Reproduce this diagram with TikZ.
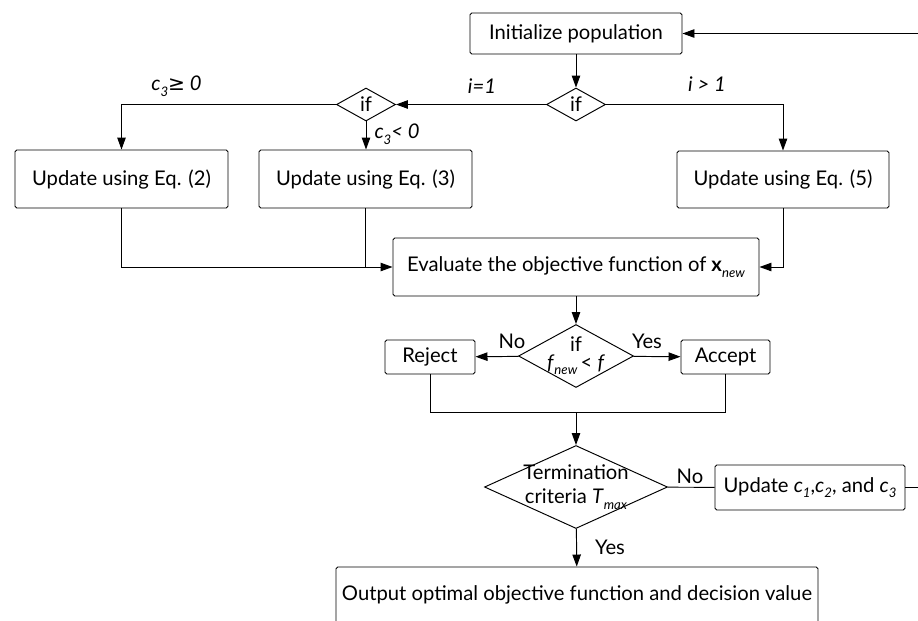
\documentclass[tikz,border=0pt]{standalone}
\usepackage{fontspec}
\setmainfont{Lato}
\newfontfamily\symfont{DejaVu Sans}
\usetikzlibrary{shapes.geometric,arrows.meta}
\newcommand{\sub}[1]{\raisebox{-0.55ex}{\fontsize{7.5}{8}\selectfont\itshape #1}}

\begin{document}
\begin{tikzpicture}[
  every path/.style={line width=0.55pt},
  box/.style={draw, rounded corners=1pt, inner sep=0pt, font=\fontsize{11.5}{13}\selectfont},
  test/.style={draw, diamond, inner sep=0pt},
  arr/.style={-{Triangle[length=0.24cm,width=0.17cm]}},
  lbl/.style={font=\fontsize{11.5}{13}\selectfont\itshape},
  txt/.style={font=\fontsize{11.5}{13}\selectfont}
]
\useasboundingbox (0,0) rectangle (18.36,-12.4);

% top of the flow
\node[box, minimum width=4.24cm, minimum height=0.82cm] (init) at (11.52,-0.67) {Initialize population};
\node[test, minimum width=1.18cm, minimum height=0.66cm, label={[txt]center:if}] (ifi) at (11.52,-2.09) {};
\node[test, minimum width=1.18cm, minimum height=0.66cm, label={[txt]center:if}] (ifc) at (7.32,-2.09) {};

% update boxes
\node[box, minimum width=4.26cm, minimum height=1.16cm] (eqtwo) at (2.43,-3.58) {Update using Eq. (2)};
\node[box, minimum width=4.26cm, minimum height=1.16cm] (eqthree) at (7.31,-3.58) {Update using Eq. (3)};
\node[box, minimum width=4.24cm, minimum height=1.14cm] (eqfive) at (15.66,-3.59) {Update using Eq. (5)};
\node[box, minimum width=7.32cm, minimum height=1.16cm] (eval) at (11.52,-5.34) {Evaluate the objective function of \textbf{x}\sub{new}};

% selection
\node[test, minimum width=2.3cm, minimum height=1.26cm,
  label={[txt, align=center, font=\fontsize{11.5}{10}\selectfont]center:{if\\\textit{f}\sub{new}\,< \textit{f}}}] (better) at (11.52,-7.12) {};
\node[box, minimum width=1.8cm, minimum height=0.68cm] (reject) at (8.6,-7.14) {Reject};
\node[box, minimum width=1.78cm, minimum height=0.68cm] (accept) at (14.51,-7.14) {Accept};
\coordinate (join) at (11.52,-8.24);

% termination
\node[test, minimum width=3.66cm, minimum height=1.66cm,
  label={[txt, align=center, font=\fontsize{11.5}{13.5}\selectfont]center:{Termination\\criteria \textit{T}\sub{max}}}] (term) at (11.52,-9.74) {};
\node[box, minimum width=3.8cm, minimum height=0.9cm] (updc) at (16.2,-9.75) {Update \textit{c}\sub{1},\textit{c}\sub{2}, and \textit{c}\sub{3}};
\node[box, minimum width=9.64cm, minimum height=1.12cm] (output) at (11.54,-11.9) {Output optimal objective function and decision value};
\coordinate (loop) at (18.4,-0.67);

% connectors
\draw[arr] (init) -- (ifi);
\draw[arr] (ifi) -- (ifc);
\draw[arr] (ifi.east) -| (eqfive.north);
\draw[arr] (ifc.west) -| (eqtwo.north);
\draw[arr] (ifc.south) -- (ifc.south |- eqthree.north);
\draw[arr] (eqtwo.south) |- (eval.west);
\draw (eqthree.south) -- (eqthree.south |- eval.west);
\draw[arr] (eqfive.south) |- (eval.east);
\draw[arr] (eval) -- (better);
\draw[arr] (better) -- (reject);
\draw[arr] (better) -- (accept);
\draw (reject.south) -- (reject.south |- join) -- (accept.south |- join) -- (accept.south);
\draw[arr] (join) -- (term);
\draw (term) -- (updc);
\draw[arr] (updc.east) -| (loop) -- (init.east);
\draw[arr] (term) -- (output);

% branch labels
\node[lbl] (ione) at (9.64,-1.72) {i=1};
\node[lbl] (imore) at (14.14,-1.68) {i > 1};
\node[lbl] (cpos) at (3.53,-1.72) {c\sub{3}{\symfont ≥} 0};
\node[lbl] (cneg) at (7.94,-2.68) {c\sub{3}< 0};
\node[txt] (no) at (10.24,-6.82) {No};
\node[txt] (yes) at (12.94,-6.82) {Yes};
\node[txt] (noterm) at (13.8,-9.52) {No};
\node[txt] (yesterm) at (12.2,-10.94) {Yes};
\end{tikzpicture}
\end{document}
